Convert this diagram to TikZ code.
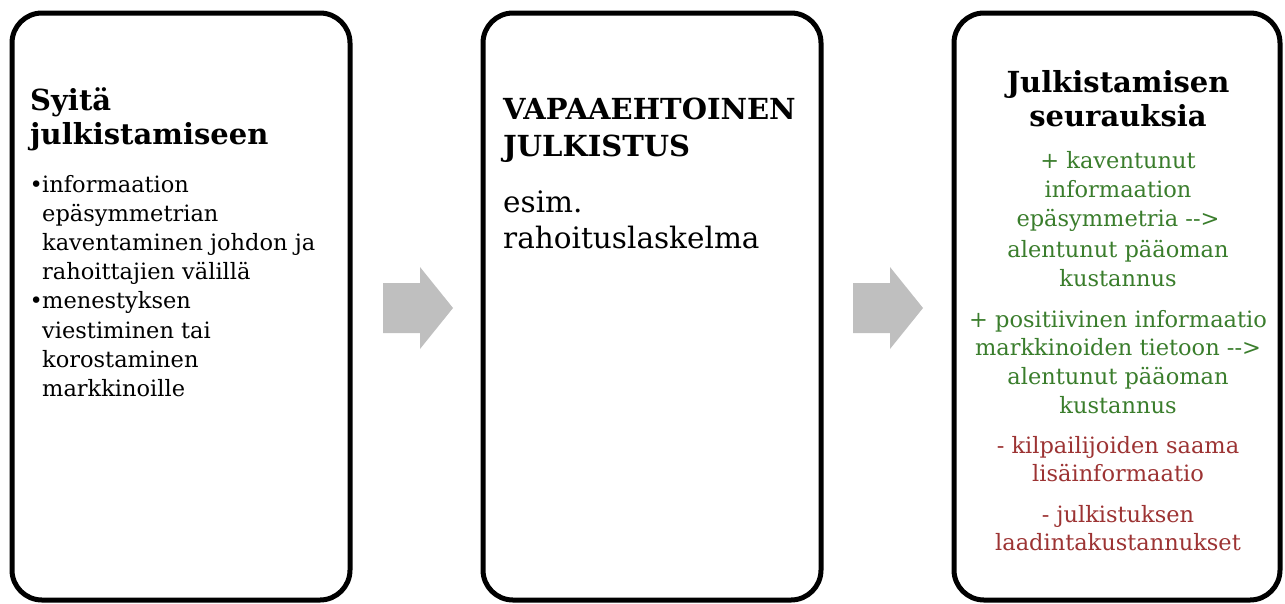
\documentclass[tikz,border=0pt]{standalone}
\usepackage{fontspec}
\setmainfont{DejaVu Serif}[Ligatures=TeXOff]
\definecolor{posgreen}{HTML}{3A7D2C}
\definecolor{negred}{HTML}{9C3333}
\definecolor{arrowgray}{HTML}{BFBFBF}
\begin{document}
\begin{tikzpicture}[x=1pt,y=-1pt,
  panel/.style={draw=black, line width=5pt, rounded corners=30pt, inner sep=0pt},
  ttl/.style={font=\fontsize{29}{35}\selectfont\bfseries, inner sep=0pt},
  bodytxt/.style={font=\fontsize{22.5}{29}\selectfont, inner sep=0pt},
  bigtxt/.style={font=\fontsize{29.5}{36}\selectfont, inner sep=0pt},
  blockarrow/.style={fill=arrowgray, draw=none}]
\useasboundingbox (0,0) rectangle (1285,603);
% panels
\node[panel, minimum width=338pt, minimum height=587pt] (p1) at (181,306.5) {};
\node[panel, minimum width=338pt, minimum height=587pt] (p2) at (652,306.5) {};
\node[panel, minimum width=326pt, minimum height=587pt] (p3) at (1117,306.5) {};
% block arrows
\fill[blockarrow] (383,283) -- (420,283) -- (420,267) -- (453,308) -- (420,349) -- (420,333) -- (383,333) -- cycle;
\fill[blockarrow] (853,283) -- (890,283) -- (890,267) -- (923,308) -- (890,349) -- (890,333) -- (853,333) -- cycle;
% panel 1
\node[ttl, anchor=base west] (t1a) at (30,110) {Syitä};
\node[ttl, anchor=base west] (t1b) at (30,144) {julkistamiseen};
\foreach \txt [count=\i] in {informaation, epäsymmetrian, kaventaminen johdon ja, rahoittajien välillä, menestyksen, viestiminen tai, korostaminen, markkinoille}
  \node[bodytxt, anchor=base west] (l1\i) at (42,{192+29.2*(\i-1)}) {\txt};
\node[bodytxt, anchor=base west] (bul1) at (29.5,192) {•};
\node[bodytxt, anchor=base west] (bul2) at (29.5,308.8) {•};
% panel 2
\node[ttl, anchor=base west] (t2a) at (503,119) {VAPAAEHTOINEN};
\node[ttl, anchor=base west] (t2b) at (503,156) {JULKISTUS};
\node[bigtxt, anchor=base west] (e2a) at (503,212) {esim.};
\node[bigtxt, anchor=base west] (e2b) at (503,248) {rahoituslaskelma};
% panel 3
\node[ttl, anchor=base] (t3a) at (1118,92) {Julkistamisen};
\node[ttl, anchor=base] (t3b) at (1118,126) {seurauksia};
\foreach \txt/\yy [count=\i] in {+ kaventunut/168, informaation/197, epäsymmetria -->/226, alentunut pääoman/257, kustannus/286, + positiivinen informaatio/327, markkinoiden tietoon -->/355, alentunut pääoman/384, kustannus/413}
  \node[bodytxt, text=posgreen, anchor=base] (g\i) at (1118,\yy) {\txt};
\foreach \txt/\yy [count=\i] in {- kilpailijoiden saama/453, lisäinformaatio/481, - julkistuksen/522, laadintakustannukset/550}
  \node[bodytxt, text=negred, anchor=base] (r\i) at (1118,\yy) {\txt};
\end{tikzpicture}
\end{document}
